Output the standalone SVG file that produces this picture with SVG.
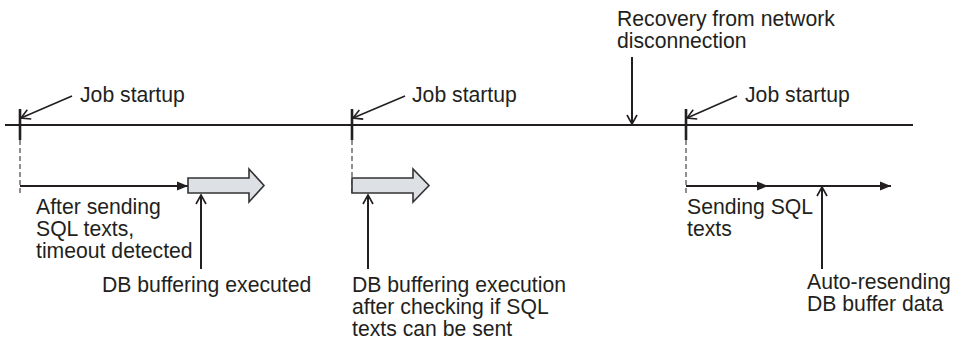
<svg xmlns="http://www.w3.org/2000/svg" width="953" height="344" viewBox="0 0 953 344">
<defs>
<style>
text{font-family:"Liberation Sans",Arial,sans-serif;font-size:21.2px;fill:#231f20}
.ln{stroke:#231f20;stroke-width:2;fill:none}
.thin{stroke:#231f20;stroke-width:1.6;fill:none}
.tick{stroke:#231f20;stroke-width:2.6}
.dash{stroke:#231f20;stroke-width:1;stroke-dasharray:5,3}
.blk{fill:#dde0e4;stroke:#333;stroke-width:1.6;stroke-linejoin:miter}
</style>
<marker id="open" markerWidth="12" markerHeight="12" refX="10" refY="6" orient="auto" markerUnits="userSpaceOnUse">
<path d="M1,1 L10,6 L1,11" fill="none" stroke="#231f20" stroke-width="1.6"/>
</marker>
<marker id="fill" markerWidth="12" markerHeight="10" refX="11" refY="5" orient="auto" markerUnits="userSpaceOnUse">
<path d="M0,0.5 L11,5 L0,9.5 Z" fill="#231f20"/>
</marker>
</defs>
<g id="timeline">
<line class="ln" x1="5" y1="125" x2="913" y2="125"/>
</g>
<g id="connectors">
<line class="tick" x1="20" y1="109" x2="20" y2="140"/>
<line class="dash" x1="20" y1="140" x2="20" y2="193"/>
<line class="tick" x1="352" y1="109" x2="352" y2="140"/>
<line class="dash" x1="352" y1="140" x2="352" y2="193"/>
<line class="tick" x1="686" y1="109" x2="686" y2="140"/>
<line class="dash" x1="686" y1="140" x2="686" y2="193"/>
<line class="thin" x1="72" y1="96" x2="21" y2="118" marker-end="url(#open)"/>
<line class="thin" x1="405" y1="96" x2="353" y2="118" marker-end="url(#open)"/>
<line class="thin" x1="737" y1="96" x2="687" y2="118" marker-end="url(#open)"/>
<line class="ln" x1="632" y1="57" x2="632" y2="124" marker-end="url(#open)"/>
<line class="ln" x1="20" y1="186" x2="188" y2="186" marker-end="url(#fill)"/>
<line class="ln" x1="686" y1="186" x2="768" y2="186" marker-end="url(#fill)"/>
<line class="ln" x1="768" y1="186" x2="891" y2="186" marker-end="url(#fill)"/>
<line class="ln" x1="201" y1="269" x2="201" y2="195" marker-end="url(#open)"/>
<line class="ln" x1="368" y1="269" x2="368" y2="195" marker-end="url(#open)"/>
<line class="ln" x1="822" y1="269" x2="822" y2="187" marker-end="url(#open)"/>
</g>
<g id="block1">
<path class="blk" d="M188,178 L249,178 L249,169 L264,185.5 L249,202 L249,193 L188,193 Z"/>
</g>
<g id="block2">
<path class="blk" d="M352,178 L413,178 L413,169 L429,185.5 L413,202 L413,193 L352,193 Z"/>
</g>
<g id="label-recovery">
<text x="617" y="26">Recovery from network</text>
<text x="617" y="48">disconnection</text>
</g>
<g id="label-job1"><text x="80" y="102">Job startup</text></g>
<g id="label-job2"><text x="412" y="102">Job startup</text></g>
<g id="label-job3"><text x="745" y="102">Job startup</text></g>
<g id="label-after">
<text x="36" y="214">After sending</text>
<text x="36" y="236">SQL texts,</text>
<text x="36" y="258">timeout detected</text>
</g>
<g id="label-dbexec"><text x="102" y="292">DB buffering executed</text></g>
<g id="label-dbcheck">
<text x="352" y="292">DB buffering execution</text>
<text x="352" y="314">after checking if SQL</text>
<text x="352" y="336">texts can be sent</text>
</g>
<g id="label-sending">
<text x="687" y="214">Sending SQL</text>
<text x="687" y="236">texts</text>
</g>
<g id="label-auto">
<text x="807" y="289">Auto-resending</text>
<text x="807" y="311">DB buffer data</text>
</g>
</svg>
